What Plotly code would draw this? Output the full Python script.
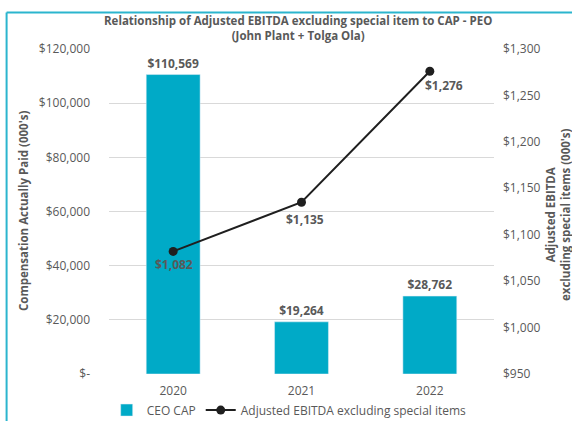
import plotly.graph_objects as go

# data
years = ['2020', '2021', '2022']
ceo_cap = [110569, 19264, 28762]
ebitda = [1082, 1135, 1276]
cap_labels = ['$110,569', '$19,264', '$28,762']
ebitda_labels = ['$1,082', '$1,135', '$1,276']
left_ticks = [0, 20000, 40000, 60000, 80000, 100000, 120000]
left_ticktext = ['$-', '$20,000', '$40,000', '$60,000', '$80,000', '$100,000', '$120,000']

TXT = '#595959'
FONT = 'Open Sans'

fig = go.Figure()
fig.add_trace(go.Bar(
    x=years, y=ceo_cap, name='CEO CAP', marker_color='#00AAC7',
    text=cap_labels, textposition='outside', cliponaxis=False,
    textfont=dict(family=FONT, size=12, color=TXT, weight='bold'),
))
fig.add_trace(go.Scatter(
    x=years, y=ebitda, name='Adjusted EBITDA excluding special items', yaxis='y2',
    mode='lines+markers', line=dict(color='#1F1F1F', width=2),
    marker=dict(color='#1F1F1F', size=9), cliponaxis=False,
))

fig.update_layout(
    width=572, height=421,
    margin=dict(l=109, r=78, t=49, b=47, autoexpand=False),
    paper_bgcolor='white', plot_bgcolor='white',
    font=dict(family=FONT, size=12, color=TXT),
    bargap=0.58,
    xaxis=dict(type='category', range=[-0.5, 2.5], showline=False, ticks='',
               tickfont=dict(size=12, color=TXT), ticklabelstandoff=8, automargin=False),
    yaxis=dict(
        range=[0, 120000], tickvals=left_ticks, ticktext=left_ticktext,
        showgrid=True, gridcolor='#D9D9D9', gridwidth=1, zeroline=False,
        ticks='', ticklabelstandoff=18, automargin=False,
    ),
    yaxis2=dict(
        overlaying='y', side='right', range=[950, 1300], dtick=50,
        tickprefix='$', tickformat=',', showgrid=False, zeroline=False,
        ticks='', ticklabelstandoff=8, automargin=False,
    ),
    legend=dict(orientation='h', x=0.468, xanchor='center', y=-0.111, yanchor='middle',
                font=dict(size=12, color=TXT), traceorder='normal', itemwidth=30),
    shapes=[
        dict(type='line', xref='paper', yref='paper', x0=-0.266, x1=-0.266, y0=1.112, y1=-0.2,
             line=dict(color='#2BB5CE', width=2)),
        dict(type='line', xref='paper', yref='paper', x0=-0.266, x1=1.25, y0=1.112, y1=1.112,
             line=dict(color='#2BB5CE', width=2)),
    ],
)

# line value labels, nudged like the original (x given as category index)
label_shift = [(1, -13), (3, -17), (14, -14)]
for i, (val, lab, (dx, dy)) in enumerate(zip(ebitda, ebitda_labels, label_shift)):
    fig.add_annotation(x=i, y=val, xref='x', yref='y2', text=f'<b>{lab}</b>', showarrow=False,
                       xshift=dx, yshift=dy, font=dict(family=FONT, size=12, color=TXT))

fig.add_annotation(text='<b>Relationship of Adjusted EBITDA excluding special item to CAP - PEO<br>(John Plant + Tolga Ola)</b>',
                   xref='paper', yref='paper', x=0.49, y=1.066, xanchor='center', yanchor='middle',
                   showarrow=False, font=dict(family=FONT, size=11.5, color=TXT))
fig.add_annotation(text="<b>Compensation Actually Paid (000's)</b>", textangle=-90,
                   xref='paper', yref='paper', x=-0.222, y=0.5, xanchor='center', yanchor='middle',
                   showarrow=False, font=dict(family=FONT, size=11.5, color=TXT))
fig.add_annotation(text="<b>Adjusted EBITDA<br>excluding special items (000's)</b>", textangle=-90,
                   xref='paper', yref='paper', x=1.166, y=0.492, xanchor='center', yanchor='middle',
                   showarrow=False, font=dict(family=FONT, size=11.5, color=TXT))

# drop the default page margin so the 572x421 figure fills the window
fig.write_html('out.html', config={'displayModeBar': False},
               post_script="document.body.style.margin='0';")
